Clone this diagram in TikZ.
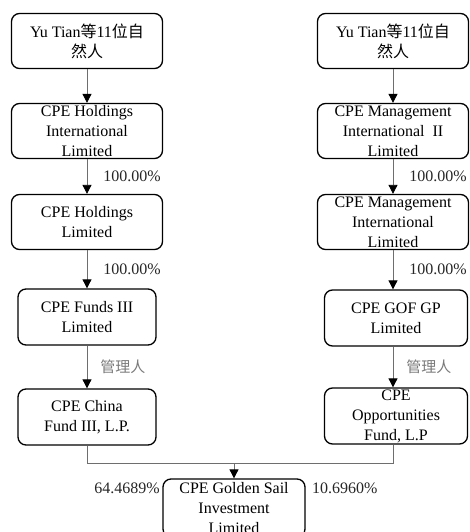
\documentclass[tikz,border=0pt]{standalone}
\usepackage{fontspec}
\setmainfont{Liberation Serif}
\newfontfamily\cjk{Noto Sans CJK SC}
\usepackage{tikz}
\usetikzlibrary{arrows.meta, positioning}
\definecolor{edgegray}{HTML}{6E6E6E}
\definecolor{lblgray}{HTML}{7A7A7A}

\begin{document}
\begin{tikzpicture}[x=1pt, y=-1pt,
  box/.style={draw=black, line width=1.3pt, rounded corners=8pt, minimum width=151pt, minimum height=55pt, inner xsep=2pt, inner ysep=0pt, align=center, font=\fontsize{16}{20}\selectfont},
  fundbox/.style={box, minimum width=138pt, minimum height=56pt},
  arr/.style={-{Triangle[length=9pt, width=9pt, color=black]}, edgegray, line width=0.8pt},
  line/.style={edgegray, line width=0.8pt},
  lbl/.style={inner sep=0pt, text=black!85, font=\fontsize{16}{20}\selectfont},
  mgr/.style={lbl, text=lblgray, font=\fontsize{15}{18}\selectfont\cjk}
]
  \useasboundingbox (0,0) rectangle (469,532);

  % left chain
  \node[box] (yuL) at (87,41) {Yu Tian{\cjk 等}11{\cjk 位自}\\{\cjk 然人}};
  \node[box] (hiL) at (87,131) {CPE Holdings\\International\\Limited};
  \node[box] (hL) at (87,222) {CPE Holdings\\Limited};
  \node[fundbox] (fL) at (87,317) {CPE Funds III\\Limited};
  \node[fundbox] (cL) at (87,417) {CPE China\\Fund III, L.P.};

  % right chain
  \node[box] (yuR) at (393,41) {Yu Tian{\cjk 等}11{\cjk 位自}\\{\cjk 然人}};
  \node[box] (mR) at (393,131) {CPE Management\\International~~II\\Limited};
  \node[box] (miR) at (393,222) {CPE Management\\International\\Limited};
  \node[fundbox, minimum width=143pt] (gR) at (396,318) {CPE GOF GP\\Limited};
  \node[fundbox, minimum width=143pt] (oR) at (396,416) {CPE\\Opportunities\\Fund, L.P};

  % target
  \node[fundbox, minimum width=142pt, minimum height=58pt] (gs) at (234,508) {CPE Golden Sail\\Investment\\Limited};
  \coordinate (jn) at (234,463);

  \draw[arr] (yuL) -- (hiL);
  \draw[arr] (hiL) -- node[lbl, right=16pt] {100.00\%} (hL);
  \draw[arr] (hL) -- node[lbl, right=16pt] {100.00\%} (fL);
  \draw[arr] (fL) -- node[mgr, right=13pt] {管理人} (cL);

  \draw[arr] (yuR) -- (mR);
  \draw[arr] (mR.south) -- node[lbl, right=16pt] {100.00\%} (mR.south |- miR.north);
  \draw[arr] (miR.south) -- node[lbl, right=16pt] {100.00\%} (miR.south |- gR.north);
  \draw[arr] (gR.south -| miR.south) -- node[mgr, right=13pt] {管理人} (oR.north -| miR.south);

  \draw[line] (cL) |- (jn);
  \draw[line] (oR.south -| miR.south) |- (jn);
  \draw[arr] (jn) -- (gs);

  \node[lbl, anchor=east] (pL) at (160,488) {64.4689\%};
  \node[lbl, anchor=west] (pR) at (312,488) {10.6960\%};
\end{tikzpicture}
\end{document}
